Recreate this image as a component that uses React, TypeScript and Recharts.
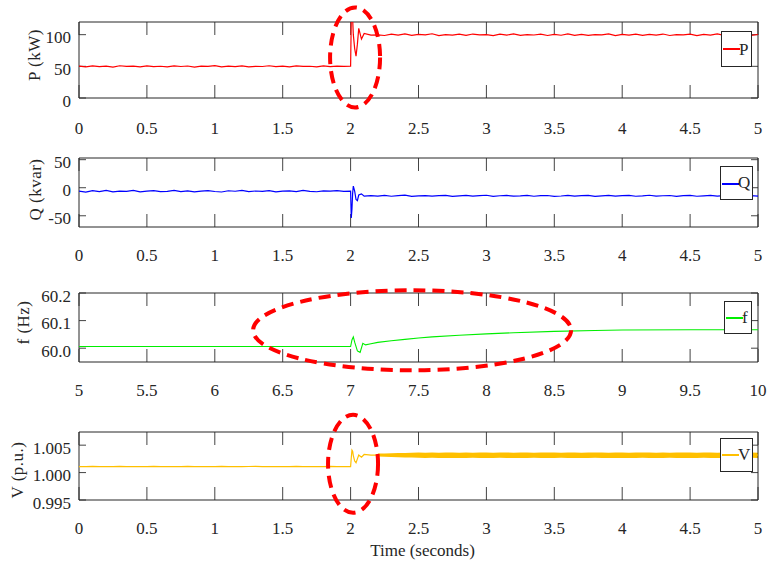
import React from "react";
import {
  ComposedChart,
  Line,
  Area,
  XAxis,
  YAxis,
  CartesianGrid,
  ReferenceArea,
  ReferenceDot,
  Legend,
} from "recharts";

// time base for P, Q, V (seconds): steady part, step transient, after step
const T_PRE = [
  0, 0.05, 0.1, 0.15, 0.2, 0.25, 0.3, 0.35, 0.4, 0.45,
  0.5, 0.55, 0.6, 0.65, 0.7, 0.75, 0.8, 0.85, 0.9, 0.95,
  1, 1.05, 1.1, 1.15, 1.2, 1.25, 1.3, 1.35, 1.4, 1.45,
  1.5, 1.55, 1.6, 1.65, 1.7, 1.75, 1.8, 1.85, 1.9, 1.95,
];
const T_STEP = [2, 2.005, 2.01, 2.015, 2.02, 2.03, 2.04, 2.05, 2.06, 2.08, 2.1, 2.15];
const T_POST = [
  2.2, 2.25, 2.3, 2.35, 2.4, 2.45, 2.5, 2.55, 2.6, 2.65,
  2.7, 2.75, 2.8, 2.85, 2.9, 2.95, 3, 3.05, 3.1, 3.15,
  3.2, 3.25, 3.3, 3.35, 3.4, 3.45, 3.5, 3.55, 3.6, 3.65,
  3.7, 3.75, 3.8, 3.85, 3.9, 3.95, 4, 4.05, 4.1, 4.15,
  4.2, 4.25, 4.3, 4.35, 4.4, 4.45, 4.5, 4.55, 4.6, 4.65,
  4.7, 4.75, 4.8, 4.85, 4.9, 4.95, 5,
];
const T = [...T_PRE, ...T_STEP, ...T_POST];

// active power (kW)
const P = [
  50.4, 49.1, 50.8, 49.6, 50.2, 48.9, 50.9, 49.8, 50.3, 49.2,
  50.7, 49.5, 50.1, 49.0, 50.6, 49.7, 50.5, 48.8, 50.2, 49.9,
  51.0, 49.3, 50.4, 49.6, 50.8, 49.1, 50.0, 49.7, 50.9, 49.4,
  50.3, 49.0, 50.6, 49.8, 50.1, 49.2, 50.7, 49.5, 50.2, 49.9,
  50.2, 125, 125, 125, 100, 78, 66, 85, 110, 93, 102, 99.4,
  99.8, 98.7, 100.9, 99.2, 101.1, 98.9, 100.3, 99.6, 101.4, 98.5,
  100.0, 99.3, 100.8, 98.8, 101.0, 99.7, 100.2, 98.6, 100.7, 99.4,
  101.2, 98.9, 100.1, 99.5, 100.9, 98.7, 100.4, 99.1, 101.3, 99.0,
  100.6, 98.8, 100.0, 99.6, 101.1, 98.5, 100.3, 99.2, 100.8, 98.9,
  100.5, 99.4, 101.0, 98.7, 100.2, 99.8, 100.9, 98.6, 100.4, 99.3,
  101.2, 99.0, 100.1, 99.5, 100.7, 98.8, 100.3,
];

// reactive power (kvar)
const Q = [
  -6.2, -7.8, -5.1, -6.9, -4.8, -7.2, -5.9, -6.5, -4.6, -7.5,
  -6.0, -5.3, -7.1, -6.4, -4.9, -6.8, -5.6, -7.3, -6.1, -5.0,
  -6.7, -7.6, -5.4, -6.3, -4.7, -7.0, -5.8, -6.6, -5.2, -7.4,
  -6.0, -5.5, -6.9, -4.8, -6.4, -7.2, -5.7, -6.1, -5.0, -6.6,
  -6.0, -54, -38, -10, 3, -6, -21, -23, -13, -11, -15, -14.2,
  -14.8, -13.6, -15.2, -14.1, -13.3, -15.5, -14.4, -13.9, -15.0, -14.2,
  -13.5, -15.3, -14.6, -13.8, -15.1, -14.0, -13.4, -15.4, -14.3, -13.7,
  -15.0, -14.5, -13.6, -15.2, -14.1, -13.9, -15.4, -14.7, -13.5, -15.0,
  -14.2, -13.8, -15.3, -14.4, -13.6, -15.1, -14.0, -13.7, -15.2, -14.6,
  -13.4, -15.0, -14.3, -13.9, -15.5, -14.1, -13.6, -15.2, -14.5, -13.8,
  -15.0, -14.2, -13.5, -15.3, -14.4, -13.9, -14.8,
];

// voltage (p.u.)
const V = [
  1.0011, 1.00108, 1.00112, 1.00109, 1.00111, 1.00107, 1.00112, 1.0011, 1.00108, 1.00111,
  1.00109, 1.00112, 1.0011, 1.00107, 1.00111, 1.00109, 1.00112, 1.00108, 1.0011, 1.00111,
  1.00108, 1.00112, 1.00109, 1.0011, 1.00107, 1.00111, 1.00112, 1.00109, 1.0011, 1.00108,
  1.00111, 1.00109, 1.00112, 1.0011, 1.00108, 1.00111, 1.00109, 1.00112, 1.0011, 1.00109,
  1.0011, 1.0027, 1.0041, 1.0039, 1.0031, 1.0021, 1.0018, 1.0025, 1.0032, 1.0028, 1.0033, 1.0032,
  1.0032, 1.00322, 1.00319, 1.00321, 1.00318, 1.0032, 1.00323, 1.00317, 1.00321, 1.00319,
  1.0032, 1.00322, 1.00319, 1.00321, 1.00318, 1.0032, 1.00323, 1.00317, 1.00321, 1.00319,
  1.0032, 1.00322, 1.00319, 1.00321, 1.00318, 1.0032, 1.00323, 1.00317, 1.00321, 1.00319,
  1.0032, 1.00322, 1.00319, 1.00321, 1.00318, 1.0032, 1.00323, 1.00317, 1.00321, 1.00319,
  1.0032, 1.00322, 1.00319, 1.00321, 1.00318, 1.0032, 1.00323, 1.00317, 1.00321, 1.00319,
  1.0032, 1.00322, 1.00319, 1.00321, 1.00318, 1.0032, 1.00321,
];

// ripple envelope of V after the step (aligned with T_POST)
const V_LO = [
  1.00292, 1.00287, 1.00283, 1.0028, 1.00277, 1.00274, 1.0027, 1.00267, 1.00269, 1.00266,
  1.00268, 1.00265, 1.00268, 1.00266, 1.0027, 1.00264, 1.00267, 1.00265, 1.00269, 1.00265,
  1.00268, 1.00266, 1.00264, 1.00269, 1.00265, 1.00267, 1.00264, 1.0027, 1.00266, 1.00264,
  1.00268, 1.00265, 1.00269, 1.00264, 1.00267, 1.00266, 1.00264, 1.00268, 1.00265, 1.00269,
  1.00264, 1.00267, 1.00265, 1.0027, 1.00264, 1.00268, 1.00266, 1.00264, 1.00269, 1.00265,
  1.00267, 1.00264, 1.00268, 1.00266, 1.00264, 1.00269, 1.00266,
];
const V_HI = [
  1.00346, 1.0035, 1.00353, 1.00356, 1.00359, 1.00361, 1.00364, 1.00362, 1.00366, 1.00363,
  1.00366, 1.00364, 1.00362, 1.00366, 1.00363, 1.00367, 1.00364, 1.00362, 1.00366, 1.00365,
  1.00363, 1.00367, 1.00364, 1.00362, 1.00366, 1.00364, 1.00367, 1.00362, 1.00365, 1.00366,
  1.00363, 1.00366, 1.00364, 1.00367, 1.00362, 1.00365, 1.00366, 1.00363, 1.00366, 1.00364,
  1.00367, 1.00362, 1.00365, 1.00363, 1.00366, 1.00364, 1.00366, 1.00362, 1.00365, 1.00367,
  1.00363, 1.00366, 1.00364, 1.00366, 1.00362, 1.00365, 1.00363,
];

// frequency (Hz), its own time base 5..10 s
const F_T = [
  5, 5.5, 6, 6.5, 6.9, 7, 7.01, 7.02, 7.03, 7.05, 7.07, 7.09, 7.11, 7.15,
  7.2, 7.3, 7.4, 7.5, 7.6, 7.8, 8, 8.2, 8.5, 8.8, 9, 9.5, 10,
];
const F = [
  60.006, 60.006, 60.006, 60.006, 60.006, 60.006, 60.03, 60.041, 60.022, 59.99, 59.985, 60.018, 60.012, 60.016,
  60.021, 60.027, 60.032, 60.037, 60.041, 60.047, 60.052, 60.056, 60.061, 60.064, 60.066, 60.067, 60.067,
];

const X_TICKS = [0, 0.5, 1, 1.5, 2, 2.5, 3, 3.5, 4, 4.5, 5];
const F_X_TICKS = [5, 5.5, 6, 6.5, 7, 7.5, 8, 8.5, 9, 9.5, 10];
const P_TICKS = [0, 50, 100];
const Q_TICKS = [-50, 0, 50];
const F_TICKS = [60, 60.1, 60.2];
const V_TICKS = [0.995, 1, 1.005];

const P_DOMAIN = [0, 120];
const Q_DOMAIN = [-70, 53];
const F_DOMAIN = [59.95, 60.2];
const V_DOMAIN = [0.995, 1.0074];

const postStart = T.length - T_POST.length;
const rows = T.map((t, i) => ({
  t,
  p: P[i],
  q: Q[i],
  v: V[i],
  vBand: i >= postStart ? [V_LO[i - postStart], V_HI[i - postStart]] : null,
}));
const fRows = F_T.map((t, i) => ({ t, f: F[i] }));

const INK = "#262626";
const TICK_INK = "#444";
const FONT = '"Liberation Serif", "Times New Roman", "DejaVu Serif", serif';
const PLOT_W = 679;
const textStyle = { fontFamily: FONT, fontSize: 17 };

const xTick = (off: number) => (props: any) => (
  <text x={props.x} y={props.y + off} textAnchor="middle" dominantBaseline="central"
    fill={INK} style={textStyle}>
    {String(props.payload.value)}
  </text>
);

const yTick = (digits: number | null) => (props: any) => {
  const v = props.payload.value;
  return (
    <text x={props.x} y={props.y + 3} textAnchor="end" dominantBaseline="central"
      fill={INK} style={textStyle}>
      {digits == null ? String(v) : v.toFixed(digits)}
    </text>
  );
};

const yLabel = (text: string, cx: number, dy: number) => (props: any) => {
  const vb = props.viewBox;
  const cy = vb.y + vb.height / 2 + dy;
  return (
    <text x={cx} y={cy} transform={`rotate(-90 ${cx} ${cy})`} textAnchor="middle"
      dominantBaseline="central" fill={INK} style={{ ...textStyle, letterSpacing: 0.5 }}>
      {text}
    </text>
  );
};

const timeLabel = (props: any) => {
  const vb = props.viewBox;
  return (
    <text x={vb.x + vb.width / 2 + 4} y={vb.y + 50} textAnchor="middle" dominantBaseline="central"
      fill={INK} style={textStyle}>
      Time (seconds)
    </text>
  );
};

const legendBox = (color: string, name: string, w: number, h: number, lineY: number, textTop: number) => () => (
  <div style={{ position: "relative", width: w, height: h, boxSizing: "border-box", border: `1px solid ${INK}`, background: "#fff", fontFamily: FONT }}>
    <div style={{ position: "absolute", left: 1, top: lineY - 1, width: 17, height: 2, background: color }} />
    <span style={{ position: "absolute", left: 17, top: textTop, fontSize: 17, lineHeight: "18px", color: INK }}>{name}</span>
  </div>
);

const ellipse = (rx: number, ry: number) => (props: any) => (
  <ellipse cx={props.cx} cy={props.cy} rx={rx} ry={ry} fill="none" stroke="#ff0000"
    strokeWidth={4} strokeDasharray="12 7" />
);

export default function App() {
  return (
    <div style={{ position: "absolute", left: 0, top: 0, width: 769, height: 561, background: "#fff", fontFamily: FONT }}>
      {/* P */}
      <div style={{ position: "absolute", left: 0, top: 0 }}>
        <ComposedChart width={769} height={140} data={rows} margin={{ top: 22, right: 11, bottom: 12, left: 0 }}>
          <CartesianGrid horizontal={false} verticalValues={X_TICKS} stroke={TICK_INK} strokeDasharray="13 50 13" />
          <CartesianGrid vertical={false} horizontalValues={P_TICKS} stroke={TICK_INK} strokeDasharray={`7 ${PLOT_W - 14} 7`} />
          <XAxis type="number" dataKey="t" domain={[0, 5]} ticks={X_TICKS} interval={0} height={30}
            axisLine={false} tickLine={false} tickSize={0} tickMargin={0} tick={xTick(30)} allowDataOverflow />
          <YAxis type="number" domain={P_DOMAIN} ticks={P_TICKS} interval={0} width={79}
            axisLine={false} tickLine={false} tickSize={0} tickMargin={8} tick={yTick(null)} allowDataOverflow
            label={yLabel("P (kW)", 34, -5)} />
          <Line dataKey="p" stroke="#ff0000" strokeWidth={1.2} dot={false} isAnimationActive={false} />
          <ReferenceArea x1={0} x2={5} y1={P_DOMAIN[0]} y2={P_DOMAIN[1]} fill="none" stroke={INK} strokeWidth={1} ifOverflow="visible" />
          <ReferenceDot x={2.033} y={64} ifOverflow="visible" shape={ellipse(25, 50)} />
          <Legend layout="horizontal" verticalAlign="middle" align="center"
            content={legendBox("#ff0000", "P", 31, 36, 17, 9)}
            wrapperStyle={{ left: 721, top: 31, width: 31, height: 36 }} />
        </ComposedChart>
      </div>

      {/* Q */}
      <div style={{ position: "absolute", left: 0, top: 140 }}>
        <ComposedChart width={769} height={140} data={rows} margin={{ top: 18, right: 11, bottom: 23, left: 0 }}>
          <CartesianGrid horizontal={false} verticalValues={X_TICKS} stroke={TICK_INK} strokeDasharray="13 43 13" />
          <CartesianGrid vertical={false} horizontalValues={Q_TICKS} stroke={TICK_INK} strokeDasharray={`7 ${PLOT_W - 14} 7`} />
          <XAxis type="number" dataKey="t" domain={[0, 5]} ticks={X_TICKS} interval={0} height={30}
            axisLine={false} tickLine={false} tickSize={0} tickMargin={0} tick={xTick(28)} allowDataOverflow />
          <YAxis type="number" domain={Q_DOMAIN} ticks={Q_TICKS} interval={0} width={79}
            axisLine={false} tickLine={false} tickSize={0} tickMargin={8} tick={yTick(null)} allowDataOverflow
            label={yLabel("Q (kvar)", 35, -3)} />
          <Line dataKey="q" stroke="#0000ff" strokeWidth={1.2} dot={false} isAnimationActive={false} />
          <ReferenceArea x1={0} x2={5} y1={Q_DOMAIN[0]} y2={Q_DOMAIN[1]} fill="none" stroke={INK} strokeWidth={1} ifOverflow="visible" />
          <Legend layout="horizontal" verticalAlign="middle" align="center"
            content={legendBox("#0000ff", "Q", 33, 34, 17, 7)}
            wrapperStyle={{ left: 720, top: 26, width: 33, height: 34 }} />
        </ComposedChart>
      </div>

      {/* f */}
      <div style={{ position: "absolute", left: 0, top: 280 }}>
        <ComposedChart width={769} height={140} data={fRows} margin={{ top: 13, right: 11, bottom: 28, left: 0 }}>
          <CartesianGrid horizontal={false} verticalValues={F_X_TICKS} stroke={TICK_INK} strokeDasharray="13 43 13" />
          <CartesianGrid vertical={false} horizontalValues={F_TICKS} stroke={TICK_INK} strokeDasharray={`7 ${PLOT_W - 14} 7`} />
          <XAxis type="number" dataKey="t" domain={[5, 10]} ticks={F_X_TICKS} interval={0} height={30}
            axisLine={false} tickLine={false} tickSize={0} tickMargin={0} tick={xTick(28)} allowDataOverflow />
          <YAxis type="number" domain={F_DOMAIN} ticks={F_TICKS} interval={0} width={79}
            axisLine={false} tickLine={false} tickSize={0} tickMargin={8} tick={yTick(1)} allowDataOverflow
            label={yLabel("f (Hz)", 23, -5)} />
          <Line dataKey="f" stroke="#00ee00" strokeWidth={1.1} dot={false} isAnimationActive={false} />
          <ReferenceArea x1={5} x2={10} y1={F_DOMAIN[0]} y2={F_DOMAIN[1]} fill="none" stroke={INK} strokeWidth={1} ifOverflow="visible" />
          <ReferenceDot x={7.453} y={60.065} ifOverflow="visible" shape={ellipse(159, 40)} />
          <Legend layout="horizontal" verticalAlign="middle" align="center"
            content={legendBox("#00ee00", "f", 28, 33, 16, 7)}
            wrapperStyle={{ left: 724, top: 21, width: 28, height: 33 }} />
        </ComposedChart>
      </div>

      {/* V */}
      <div style={{ position: "absolute", left: 0, top: 410 }}>
        <ComposedChart width={769} height={151} data={rows} margin={{ top: 22, right: 11, bottom: 31, left: 0 }}>
          <CartesianGrid horizontal={false} verticalValues={X_TICKS} stroke={TICK_INK} strokeDasharray="13 42 13" />
          <CartesianGrid vertical={false} horizontalValues={V_TICKS} stroke={TICK_INK} strokeDasharray={`7 ${PLOT_W - 14} 7`} />
          <XAxis type="number" dataKey="t" domain={[0, 5]} ticks={X_TICKS} interval={0} height={30}
            axisLine={false} tickLine={false} tickSize={0} tickMargin={0} tick={xTick(28)} allowDataOverflow
            label={timeLabel} />
          <YAxis type="number" domain={V_DOMAIN} ticks={V_TICKS} interval={0} width={79}
            axisLine={false} tickLine={false} tickSize={0} tickMargin={8} tick={yTick(3)} allowDataOverflow
            label={yLabel("V (p.u.)", 17, 4)} />
          <Area dataKey="vBand" stroke="none" fill="#ffc000" fillOpacity={1} dot={false} isAnimationActive={false} />
          <Line dataKey="v" stroke="#ffc000" strokeWidth={1.2} dot={false} isAnimationActive={false} />
          <ReferenceArea x1={0} x2={5} y1={V_DOMAIN[0]} y2={V_DOMAIN[1]} fill="none" stroke={INK} strokeWidth={1} ifOverflow="visible" />
          <ReferenceDot x={2.018} y={1.0016} ifOverflow="visible" shape={ellipse(25, 49)} />
          <Legend layout="horizontal" verticalAlign="middle" align="center"
            content={legendBox("#ffc000", "V", 33, 34, 16, 7)}
            wrapperStyle={{ left: 720, top: 28, width: 33, height: 34 }} />
        </ComposedChart>
      </div>
    </div>
  );
}
